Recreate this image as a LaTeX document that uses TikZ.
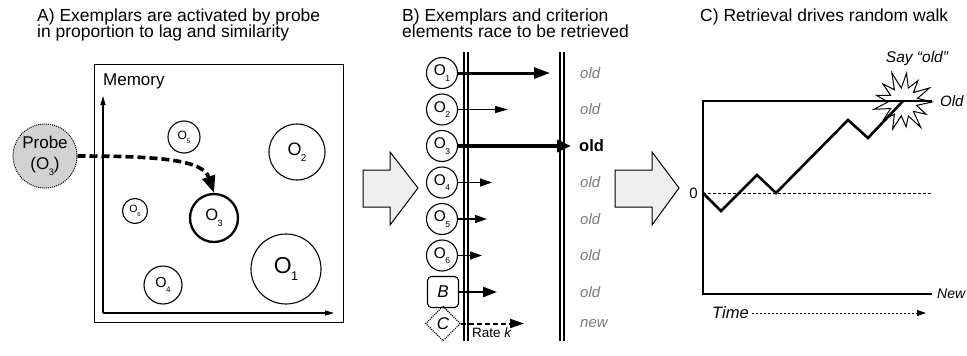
\documentclass[tikz,border=0pt]{standalone}
\usepackage{fontspec}
\setmainfont{Liberation Sans}
\usetikzlibrary{arrows.meta,shapes.geometric,calc}

% letter O with a small lowered index
\newcommand\Olab[1]{O\kern-0.03em\raisebox{-0.34em}{\scalebox{0.55}{#1}}}

\definecolor{probegray}{HTML}{D2D2D2}
\definecolor{arrowgray}{HTML}{EEEEEE}
\definecolor{wordgray}{HTML}{7A7A7A}

\begin{document}
\begin{tikzpicture}[x=1pt,y=-1pt,
  fs/.style={font=\fontsize{#1}{#1}\selectfont},
  title/.style={anchor=base west,inner sep=0,fs=17.5},
  obj/.style={circle,draw,line width=1.1pt,inner sep=0,minimum size=#1},
  word/.style={anchor=west,inner sep=0,font=\fontsize{15}{18}\selectfont\itshape,text=wordgray},
  rule/.style={line width=1.1pt},
  axis/.style={line width=1.2pt,-{Triangle[length=9pt,width=5pt]}},
  race/.style args={#1/#2/#3}{line width=#1,-{Triangle[length=#2,width=#3]}},
  bigarrow/.style={draw,line width=1pt,fill=arrowgray,line join=miter},
]
\useasboundingbox (0,0) rectangle (967,356);

% ---------------- Panel A ----------------
\node[title] (tA1) at (37,21) {A) Exemplars are activated by probe};
\node[title] (tA2) at (37,37.5) {in proportion to lag and similarity};

\node[draw,line width=1.4pt,minimum width=249,minimum height=258,anchor=north west,inner sep=0] (mem) at (94,64) {};
\node[anchor=base west,inner sep=0,fs=17] (memlab) at (103,85) {Memory};
\coordinate (orig) at (103,313);
\coordinate (yend) at (103,96);
\coordinate (xend) at (334,313);
\draw[axis] (orig) -- (yend);
\draw[axis] (orig) -- (xend);

\node[obj=70,fs=23] (a1) at (286,269) {\Olab{1}};
\node[obj=56,fs=18] (a2) at (297,152) {\Olab{2}};
\node[obj=48,fs=16.5,line width=2.3pt] (a3) at (214,218) {\Olab{3}};
\node[obj=38,fs=14.5] (a4) at (163,285) {\Olab{4}};
\node[obj=32,fs=12] (a5) at (184,137) {\Olab{5}};
\node[obj=25,fs=10.5] (a6) at (135,211) {\Olab{6}};

\node[circle,draw,densely dotted,line width=1pt,fill=probegray,minimum size=64,inner sep=0,
      align=center,font=\fontsize{17}{21}\selectfont] (probe) at (45,156) {Probe\\(\Olab{3})};
\draw[line width=3.6pt,dash pattern=on 8pt off 4pt,-{Triangle[length=17pt,width=13pt]}]
  (probe.east) .. controls (160,156) and (203,160) .. (a3.north);

% big arrow A -> B
\draw[bigarrow] (363,170) -- (390,170) -- (390,152) -- (418,188) -- (390,225) -- (390,207) -- (363,207) -- cycle;

% ---------------- Panel B ----------------
\node[title] (tB1) at (402,21) {B) Exemplars and criterion};
\node[title] (tB2) at (402,37.5) {elements race to be retrieved};

\draw[rule] (464,52) -- (464,341);
\draw[rule] (468,52) -- (468,341);
\draw[rule] (560,52) -- (560,341);
\draw[rule] (564,52) -- (564,341);

\foreach \i/\y in {1/73,2/109.5,3/146,4/182.5,5/219,6/255.5}
  \node[obj=31,fs=15.5] (b\i) at (442,\y) {\Olab{\i}};
\node[draw,rounded corners=4pt,line width=1.1pt,minimum size=31,inner sep=0,
      font=\fontsize{17}{17}\selectfont\itshape] (bB) at (443,292) {B};
\node[diamond,draw,densely dotted,line width=1.1pt,minimum size=35,inner sep=0,
      font=\fontsize{17}{17}\selectfont\itshape] (bC) at (443,323.5) {C};

\coordinate (e1) at (550,73);
\coordinate (e2) at (508,109.5);
\coordinate (e3) at (571,146);
\coordinate (e4) at (492,182.5);
\coordinate (e5) at (487,219);
\coordinate (e6) at (482,255.5);
\coordinate (eB) at (497,292);
\coordinate (eC) at (524,323.5);
\draw[race=3pt/16pt/11pt] (b1.east) -- (e1);
\draw[race=1.5pt/13pt/7pt] (b2.east) -- (e2);
\draw[race=4.2pt/14pt/12pt] (b3.east) -- (e3);
\draw[race=1.3pt/12pt/8pt] (b4.east) -- (e4);
\draw[race=1.3pt/12pt/8pt] (b5.east) -- (e5);
\draw[race=1.3pt/12pt/8pt] (b6.east) -- (e6);
\draw[race=2.2pt/14pt/10pt] (bB.east) -- (eB);
\draw[race=2pt/14pt/9pt,dash pattern=on 5pt off 3pt] (bC.east) -- (eC);

\node[word] (w1) at (580,73) {old};
\node[word] (w2) at (580,109.5) {old};
\node[anchor=west,inner sep=0,font=\fontsize{16.5}{18}\selectfont\bfseries] (w3) at (579,146) {old};
\node[word] (w4) at (580,182.5) {old};
\node[word] (w5) at (580,219) {old};
\node[word] (w6) at (580,255.5) {old};
\node[word] (wB) at (580,292) {old};
\node[word] (wC) at (580,323.5) {new};
\node[anchor=west,inner sep=0,fs=13.5] (rate) at (472,333) {Rate \textit{k}};

% big arrow B -> C
\draw[bigarrow] (615,170) -- (652,170) -- (652,152) -- (679,188) -- (652,225) -- (652,207) -- (615,207) -- cycle;

% ---------------- Panel C ----------------
\node[title] (tC) at (700,21) {C) Retrieval drives random walk};

\coordinate (top0) at (703,101);
\coordinate (top1) at (932,101);
\coordinate (bot0) at (703,294);
\coordinate (bot1) at (932,294);
\draw[line width=1.4pt] (top1) -- (top0) -- (bot0) -- (bot1);
\draw[line width=1pt,dash pattern=on 3pt off 2pt] (703,193) -- (932,193);
\node[anchor=east,inner sep=0,fs=15] (zero) at (698,193) {0};
\node[anchor=west,inner sep=0,font=\fontsize{15}{18}\selectfont\itshape] (oldlab) at (940,101) {Old};
\node[anchor=west,inner sep=0,font=\fontsize{14}{18}\selectfont\itshape] (newlab) at (937,294) {New};

\draw[line width=2.6pt,line join=miter] (703,193) -- (721,211) -- (757,175) -- (776,193)
  -- (848,120) -- (868,138) -- (903,101);

% burst where the walk reaches the upper bound
\begin{scope}[shift={(903,102)}]
  \draw[line width=1pt,line join=miter]
    (0:29) -- (14:14) -- (28:26) -- (42:14) -- (55:31) -- (69:15) -- (83:25) -- (97:14)
    -- (111:29) -- (125:15) -- (138:26) -- (152:14) -- (166:30) -- (180:15) -- (194:27)
    -- (208:14) -- (222:27) -- (235:15) -- (249:31) -- (263:14) -- (277:29) -- (291:15)
    -- (305:26) -- (318:14) -- (332:30) -- (346:15) -- cycle;
\end{scope}
\node[inner sep=0,font=\fontsize{15.5}{18}\selectfont\itshape] (say) at (917,58) {Say “old”};

\node[anchor=west,inner sep=0,font=\fontsize{16.5}{18}\selectfont\itshape] (time) at (712,313) {Time};
\coordinate (tend) at (926,313);
\draw[line width=1pt,dash pattern=on 2.5pt off 1.5pt,-{Triangle[length=9pt,width=6pt]}] (time.east) ++(3,0) -- (tend);
\end{tikzpicture}
\end{document}
